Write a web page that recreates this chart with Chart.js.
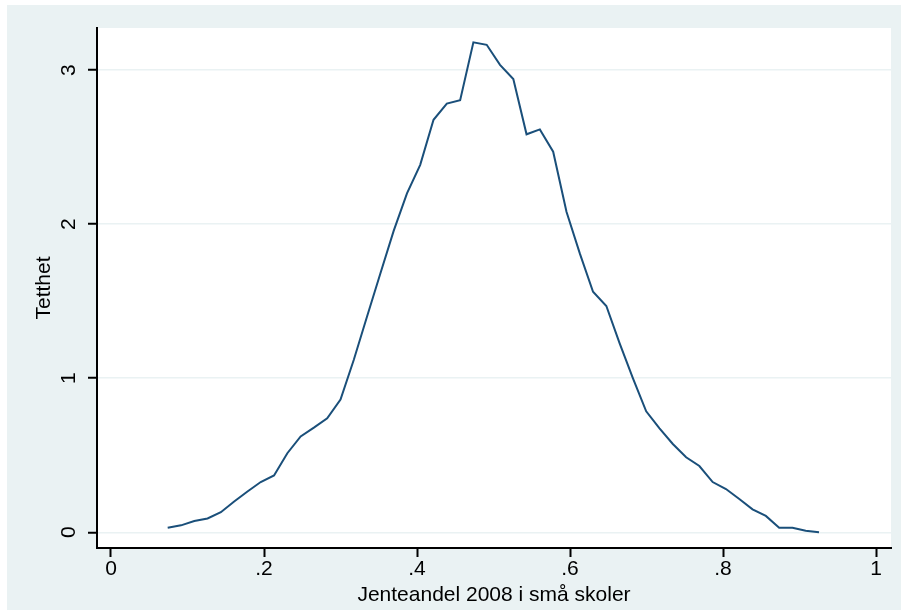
<!DOCTYPE html>
<html>
<head>
<meta charset="utf-8">
<script src="https://cdn.jsdelivr.net/npm/chart.js@4"></script>
<style>
  html, body { margin: 0; padding: 0; background: #fff; }
</style>
</head>
<body>
<canvas id="myChart" width="901" height="610"></canvas>
<script>
// tetthet (kdensity, 50 punkter)
const xs = [0.0741, 0.0915, 0.1089, 0.1262, 0.1436, 0.1610, 0.1784, 0.1957, 0.2131, 0.2305,
            0.2479, 0.2652, 0.2826, 0.3000, 0.3174, 0.3347, 0.3521, 0.3695, 0.3869, 0.4042,
            0.4216, 0.4390, 0.4564, 0.4737, 0.4911, 0.5085, 0.5259, 0.5432, 0.5606, 0.5780,
            0.5954, 0.6128, 0.6301, 0.6475, 0.6649, 0.6823, 0.6996, 0.7170, 0.7344, 0.7518,
            0.7691, 0.7865, 0.8039, 0.8213, 0.8386, 0.8560, 0.8734, 0.8908, 0.9081, 0.9255];
const ys = [0.030, 0.045, 0.073, 0.090, 0.130, 0.200, 0.265, 0.326, 0.369, 0.513,
            0.622, 0.679, 0.740, 0.862, 1.120, 1.400, 1.680, 1.956, 2.200, 2.385,
            2.677, 2.782, 2.805, 3.180, 3.164, 3.034, 2.942, 2.583, 2.615, 2.470,
            2.080, 1.810, 1.561, 1.469, 1.226, 0.999, 0.785, 0.675, 0.573, 0.487,
            0.430, 0.326, 0.281, 0.216, 0.149, 0.106, 0.030, 0.030, 0.010, 0.000];

const yTicks = [0, 1, 2, 3];
const xTicks = [0, 0.2, 0.4, 0.6, 0.8, 1];
const xTickLabels = ['0', '.2', '.4', '.6', '.8', '1'];
const xTitle = 'Jenteandel 2008 i små skoler';
const yTitle = 'Tetthet';

const fontFamily = '"Liberation Sans", Arial, Helvetica, sans-serif';
const ctx = document.getElementById('myChart').getContext('2d');

// bakgrunn i Stata-stil
const background = {
    id: 'background',
    beforeDraw(chart) {
        const c = chart.ctx;
        const a = chart.chartArea;
        c.save();
        c.fillStyle = '#ffffff';
        c.fillRect(0, 0, chart.width, chart.height);
        c.fillStyle = '#eaf2f3';
        c.fillRect(7, 5, chart.width - 7, chart.height - 5);
        c.fillStyle = '#ffffff';
        c.fillRect(a.left, a.top, a.right - a.left, a.bottom - a.top);
        c.restore();
    }
};

const myChart = new Chart(ctx, {
    type: 'line',
    data: {
        datasets: [{
            label: yTitle,
            data: xs.map((x, i) => ({ x: x, y: ys[i] })),
            borderColor: '#1a4f7a',
            borderWidth: 2,
            pointRadius: 0,
            fill: false,
            tension: 0
        }]
    },
    options: {
        responsive: false,
        animation: false,
        layout: {
            padding: { left: 0, right: 10, top: 28, bottom: 0 }
        },
        scales: {
            x: {
                type: 'linear',
                min: -0.0183,
                max: 1.0196,
                afterBuildTicks: s => { s.ticks = xTicks.map(v => ({ value: v })); },
                afterFit: s => { s.height = 62; },
                ticks: {
                    callback: (value, index) => xTickLabels[index],
                    font: { family: fontFamily, size: 21 },
                    color: '#000',
                    padding: 0,
                    maxRotation: 0,
                    autoSkip: false
                },
                grid: {
                    drawOnChartArea: false,
                    drawTicks: true,
                    tickLength: 9,
                    tickColor: '#000',
                    tickWidth: 2
                },
                border: { display: true, color: '#000', width: 2 },
                title: {
                    display: true,
                    text: xTitle,
                    color: '#000',
                    font: { family: fontFamily, size: 21 },
                    padding: { top: 0, bottom: 2 }
                }
            },
            y: {
                min: -0.102,
                max: 3.273,
                afterBuildTicks: s => { s.ticks = yTicks.map(v => ({ value: v })); },
                afterFit: s => { s.width = 97; },
                ticks: {
                    callback: value => String(value),
                    font: { family: fontFamily, size: 21 },
                    color: '#000',
                    minRotation: 90,
                    maxRotation: 90,
                    crossAlign: 'center',
                    padding: 13
                },
                grid: {
                    color: '#eaf2f3',
                    lineWidth: 1.5,
                    drawTicks: true,
                    tickLength: 9,
                    tickColor: '#000',
                    tickWidth: 2
                },
                border: { display: true, color: '#000', width: 2 },
                title: {
                    display: true,
                    text: yTitle,
                    color: '#000',
                    font: { family: fontFamily, size: 21 },
                    padding: { top: 32, bottom: 0 }
                }
            }
        },
        plugins: {
            legend: { display: false },
            tooltip: { enabled: false }
        }
    },
    plugins: [background]
});
</script>
</body>
</html>
